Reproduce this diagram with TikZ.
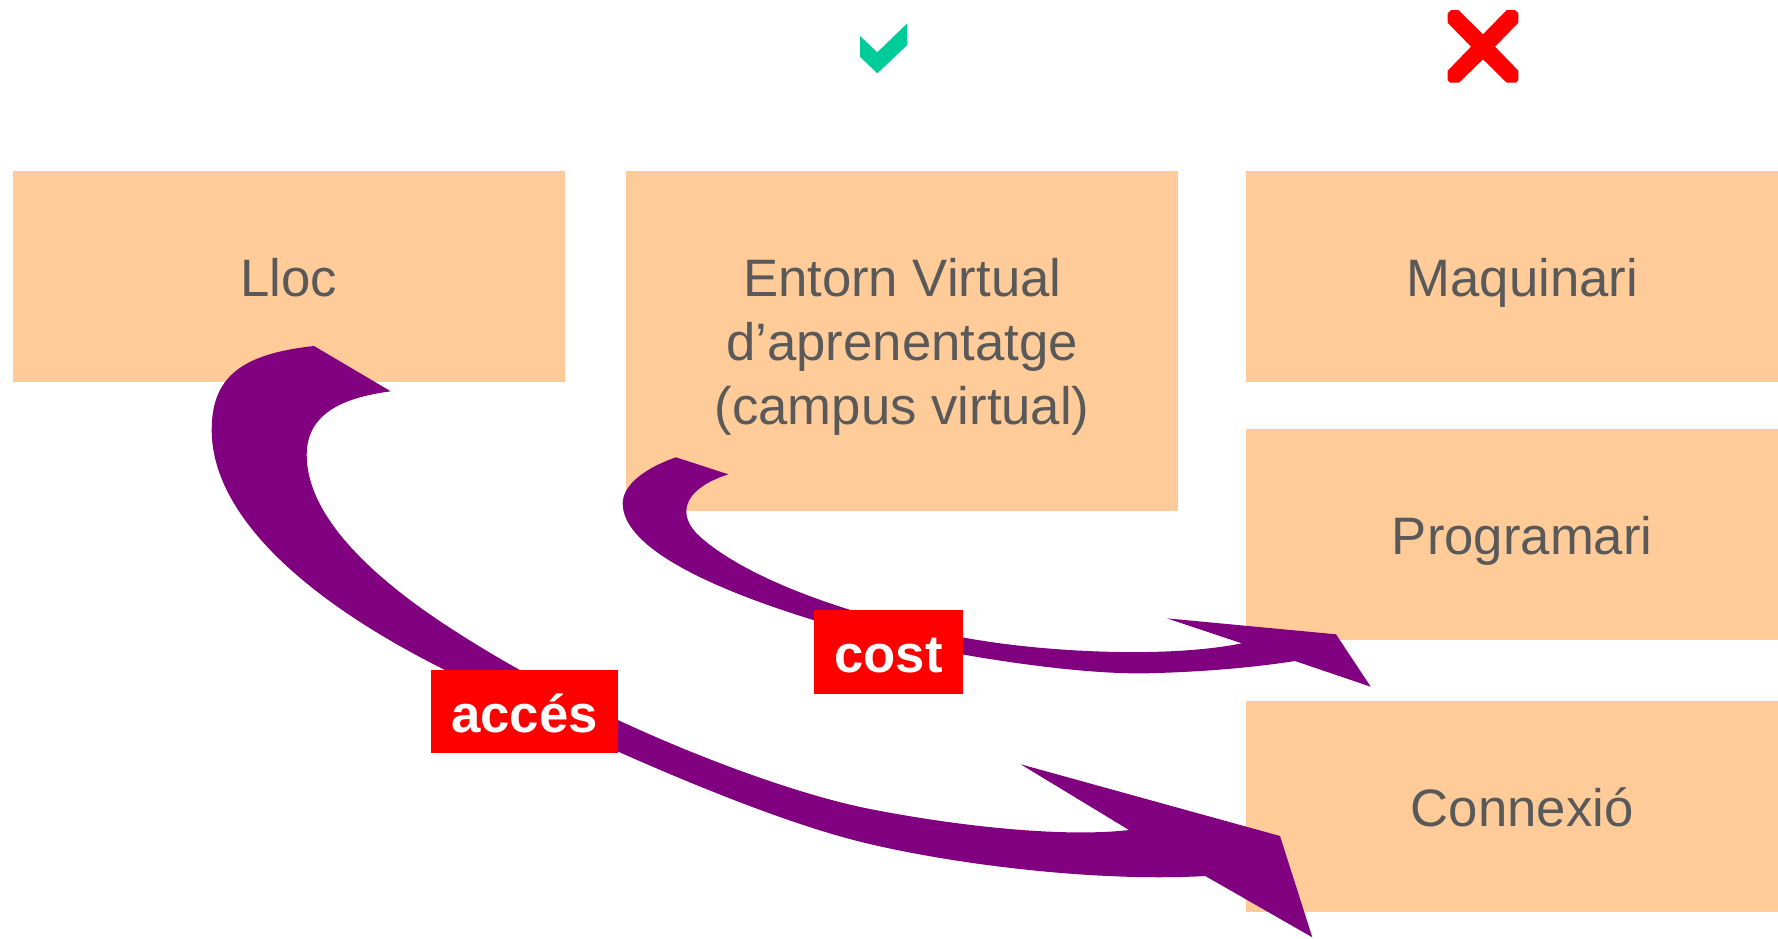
\documentclass[tikz,border=0pt]{standalone}
\usepackage{fontspec}
\setmainfont{Liberation Sans}
\usetikzlibrary{calc}
\definecolor{peach}{HTML}{FFCC99}
\definecolor{arrowpurple}{HTML}{800080}
\definecolor{labred}{HTML}{FF0000}
\definecolor{textgray}{HTML}{595959}
\definecolor{checkgreen}{HTML}{00CC99}
\begin{document}
\begin{tikzpicture}[x=1pt,y=-1pt,
  boxshape/.style={fill=peach, draw=none, inner sep=0pt, anchor=north west, minimum width=552pt},
  boxtext/.style={text=textgray, font=\fontsize{52.7}{64}\selectfont, inner sep=0pt, anchor=base},
  labshape/.style={fill=labred, draw=none, inner sep=0pt, text=white, font=\bfseries\fontsize{52.7}{64}\selectfont, text height=41.4pt, text depth=0pt},
  bigarrow/.style={fill=arrowpurple, draw=none},
  checkshape/.style={fill=checkgreen, draw=none},
  crossshape/.style={fill=labred, draw=none}]
\useasboundingbox (0,0) rectangle (1778,938);

% boxes
\node[boxshape, minimum height=211pt] (lloc) at (12.5,171) {};
\node[boxshape, minimum height=339.5pt] (entorn) at (626,171) {};
\node[boxshape, minimum height=211pt] (maq) at (1246,171) {};
\node[boxshape, minimum height=211pt] (prog) at (1246,429) {};
\node[boxshape, minimum height=211pt] (conn) at (1246,701) {};

% box texts
\node[boxtext] (tlloc) at ($(lloc.center)+(0,19.5)$) {Lloc};
\node[boxtext] (tentorn1) at ($(entorn.center)+(0,-44.5)$) {Entorn Virtual};
\node[boxtext] (tentorn2) at ($(entorn.center)+(0,19.5)$) {d’aprenentatge};
\node[boxtext] (tentorn3) at ($(entorn.center)+(0,83.5)$) {(campus virtual)};
\node[boxtext] (tmaq) at ($(maq.center)+(0,19.5)$) {Maquinari};
\node[boxtext] (tprog) at ($(prog.center)+(0,19.5)$) {Programari};
\node[boxtext] (tconn) at ($(conn.center)+(0,19.5)$) {Connexió};

% acces arrow
\fill[bigarrow] (314,346)
  .. controls (240,354) and (211.7,378) .. (211.7,430)
  .. controls (211.7,510) and (295,595) .. (445,670)
  .. controls (590,742) and (760,818) .. (866.7,843.3)
  .. controls (960,865.5) and (1100,882) .. (1205.3,876)
  -- (1312.3,937.3) -- (1280,836) -- (1020.7,764.3) -- (1129,830)
  .. controls (1060,838) and (950,825) .. (866.7,808.3)
  .. controls (780,791) and (600,725) .. (453.3,630)
  .. controls (360,570) and (306.7,510) .. (306.7,455)
  .. controls (306.7,415) and (340,398) .. (390.7,391.3)
  -- cycle;

% cost arrow
\fill[bigarrow] (676,457.3)
  .. controls (645,468) and (622.7,485) .. (622.7,503.3)
  .. controls (622.7,545) and (700,585) .. (813.3,620)
  .. controls (900,647) and (1060,675) .. (1146.7,673.3)
  .. controls (1200,672) and (1250,668) .. (1295,661)
  -- (1370.7,686.7) -- (1336,634.3) -- (1166.7,618.3) -- (1241.7,643.3)
  .. controls (1180,656) and (1080,654) .. (1000,643.3)
  .. controls (900,630) and (760,590) .. (700,536.7)
  .. controls (677.5,516.7) and (680,490) .. (728.3,474.3)
  -- cycle;

% labels
\node[labshape, minimum width=187pt, minimum height=83.3pt] (acces) at (524.5,711.7) {accés};
\node[labshape, minimum width=149pt, minimum height=84pt] (cost) at (888.5,652) {cost};

% check mark
\fill[checkshape] (860,36) -- (877.3,52.3) -- (907.3,23.3) -- (907.3,45) -- (877.3,73.3) -- (860,56.7) -- cycle;

% cross
\fill[crossshape] (1447.7,22.7) -- (1447.7,13.3) -- (1451,10) -- (1458.3,10) -- (1483,34.3)
  -- (1506.7,10) -- (1515,10) -- (1518.3,13.3) -- (1518.3,22.7) -- (1495,46.7)
  -- (1518.3,70.7) -- (1518.3,80) -- (1516,82.7) -- (1506.7,82.7) -- (1483,59.3)
  -- (1459,82.7) -- (1450,82.7) -- (1447.7,80) -- (1447.7,70.7) -- (1471,46.7) -- cycle;
\end{tikzpicture}
\end{document}
